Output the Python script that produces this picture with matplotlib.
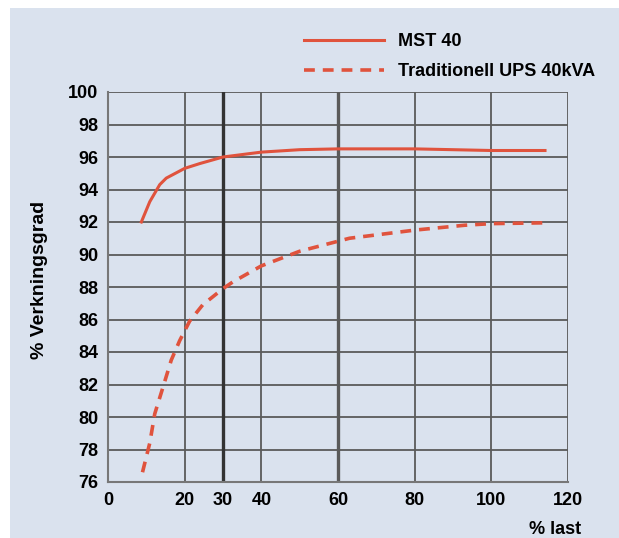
import matplotlib.pyplot as plt
from matplotlib.patches import Rectangle
from matplotlib.lines import Line2D

plt.rcParams['font.family'] = ['Liberation Sans', 'DejaVu Sans']

# Verkningsgrad vs last
mst_last = [8.7, 10.9, 13.5, 15.2, 20, 24, 30, 40, 50, 60, 70, 80, 90, 100, 114]
mst_eff = [92.0, 93.25, 94.3, 94.7, 95.3, 95.6, 96.0, 96.3, 96.45, 96.5, 96.5, 96.5, 96.45, 96.4, 96.4]

ups_last = [9.0, 10.9, 12.2, 14.3, 16.5, 18.7, 21.3, 24.7, 30, 32.5, 40, 50, 63, 80, 93, 100, 114]
ups_eff = [76.6, 78.4, 80.2, 81.8, 83.5, 84.7, 85.9, 86.9, 87.9, 88.3, 89.3, 90.2, 91.0, 91.5, 91.8, 91.9, 91.95]

x_ticks = [0, 20, 30, 40, 60, 80, 100, 120]
y_ticks = list(range(76, 101, 2))

bg = '#dae2ee'
red = '#e0533d'
grid_col = '#5a5a5a'

fig = plt.figure(figsize=(6.19, 5.38), dpi=100)
fig.patch.set_facecolor('white')
fig.patches.append(Rectangle((10 / 619, 0), 1, 1 - 8 / 538, transform=fig.transFigure,
                             facecolor=bg, edgecolor='none', zorder=-10))

ax = fig.add_axes([108 / 619, 1 - 482 / 538, (568 - 108) / 619, (482 - 92) / 538])
ax.set_facecolor(bg)
ax.set_xlim(0, 120)
ax.set_ylim(76, 100)

# grid
for y in y_ticks[1:]:
    ax.axhline(y, color=grid_col, lw=1.3, zorder=1)
for x in x_ticks[1:]:
    thick = x in (30, 60)
    ax.axvline(x, color='#333333' if x == 30 else grid_col, lw=2.4 if thick else 1.3, zorder=1)

for s in ['left', 'bottom']:
    ax.spines[s].set_color('#777777')
    ax.spines[s].set_linewidth(1.5)
for s in ['top', 'right']:
    ax.spines[s].set_visible(False)

ax.plot(mst_last, mst_eff, color=red, lw=2.2, zorder=3)
ax.plot(ups_last, ups_eff, color=red, lw=2.6, ls=(0, (3, 2.2)), zorder=3)

ax.set_xticks(x_ticks)
ax.set_yticks(y_ticks)
ax.tick_params(length=0, labelsize=13, pad=7)
for lbl in ax.get_xticklabels() + ax.get_yticklabels():
    lbl.set_fontweight('bold')

fig.text(40 / 619, 1 - 280 / 538, '% Verkningsgrad', rotation=90, ha='center', va='center',
         fontsize=14, fontweight='bold')
fig.text(555 / 619, 1 - 529 / 538, '% last', ha='center', va='center',
         fontsize=13, fontweight='bold')

# legend drawn in figure coordinates
handles = [Line2D([], [], color=red, lw=2.2),
           Line2D([], [], color=red, lw=2.6, ls=(0, (3, 2.2)))]
fig.legend(handles, ['MST 40', 'Traditionell UPS 40kVA'], loc='upper left',
           bbox_to_anchor=(288 / 619, 1 - 17 / 538), frameon=False, handlelength=4.4,
           labelspacing=0.7, prop={'weight': 'bold', 'size': 13})

fig.savefig('out.png', dpi=100, facecolor='white')
